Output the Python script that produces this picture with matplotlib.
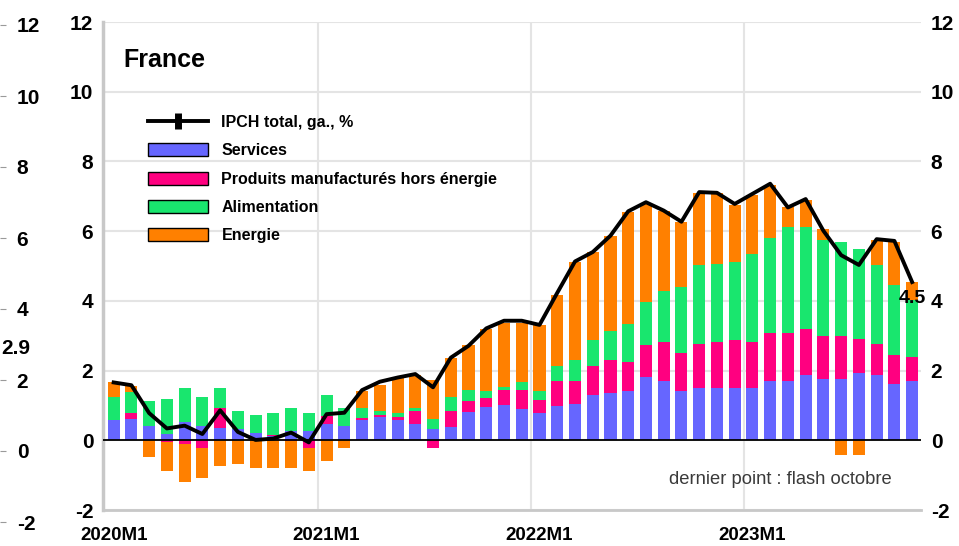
import matplotlib
matplotlib.use("Agg")
import matplotlib.pyplot as plt
from matplotlib.lines import Line2D
from matplotlib.patches import Patch
import numpy as np

plt.rcParams["font.family"] = ["Liberation Sans", "DejaVu Sans"]

# Contributions to HICP inflation, France, y/y %, 2020M1 .. 2023M10
periods = [f"{y}M{m}" for y in range(2020, 2024) for m in range(1, 13)][:46]

services = [0.58, 0.62, 0.40, 0.19, 0.53, 0.40, 0.36, 0.31, 0.20, 0.11, 0.26, 0.26,
            0.47, 0.40, 0.58, 0.67, 0.58, 0.46, 0.31, 0.375, 0.80, 0.95, 1.01, 0.89,
            0.79, 0.99, 1.05, 1.30, 1.36, 1.41, 1.82, 1.71, 1.41, 1.51, 1.51, 1.51,
            1.51, 1.71, 1.71, 1.875, 1.77, 1.77, 1.92, 1.875, 1.615, 1.71]
manufactured = [0.0, 0.15, 0.0, -0.04, -0.12, -0.22, 0.57, 0.0, 0.0, 0.04, -0.03, -0.22,
                0.24, 0.0, 0.06, 0.05, 0.10, 0.38, -0.21, 0.47, 0.32, 0.27, 0.42, 0.54,
                0.37, 0.72, 0.66, 0.84, 0.94, 0.84, 0.90, 1.11, 1.10, 1.26, 1.31, 1.37,
                1.31, 1.37, 1.37, 1.31, 1.21, 1.21, 0.99, 0.89, 0.84, 0.67]
food = [0.67, 0.62, 0.73, 0.99, 0.98, 0.83, 0.58, 0.53, 0.52, 0.63, 0.67, 0.53,
        0.58, 0.52, 0.30, 0.11, 0.10, 0.10, 0.31, 0.41, 0.31, 0.20, 0.11, 0.25,
        0.26, 0.43, 0.59, 0.74, 0.83, 1.10, 1.25, 1.46, 1.88, 2.25, 2.25, 2.24,
        2.51, 2.71, 3.04, 2.94, 2.76, 2.71, 2.57, 2.25, 1.99, 1.65]
energy = [0.41, 0.17, -0.48, -0.84, -1.08, -0.87, -0.74, -0.68, -0.79, -0.79, -0.76, -0.66,
          -0.58, -0.21, 0.48, 0.76, 1.04, 0.93, 1.12, 1.10, 1.30, 1.77, 1.82, 1.69,
          1.89, 2.04, 2.82, 2.51, 2.72, 3.21, 2.83, 2.29, 1.86, 2.08, 2.03, 1.62,
          1.72, 1.54, 0.56, 0.77, 0.32, -0.42, -0.42, 0.72, 1.25, 0.50]
total = [1.66, 1.58, 0.78, 0.34, 0.42, 0.18, 0.86, 0.24, 0.01, 0.05, 0.22, -0.06,
         0.75, 0.79, 1.44, 1.68, 1.80, 1.90, 1.52, 2.37, 2.71, 3.21, 3.43, 3.43,
         3.31, 4.23, 5.13, 5.40, 5.87, 6.57, 6.83, 6.59, 6.27, 7.12, 7.10, 6.78,
         7.07, 7.36, 6.68, 6.92, 6.01, 5.31, 5.03, 5.77, 5.72, 4.54]

series_names = ["Services", "Produits manufacturés hors énergie", "Alimentation", "Energie"]
series_colors = ["#6666FF", "#FF0080", "#19E66E", "#FF8000"]
total_name = "IPCH total, ga., %"
xtick_pos = [0, 12, 24, 36]
year_bounds = [11.5, 23.5, 35.5]
yticks = list(range(-2, 13, 2))
side_label_value = 2.9

W, H = 959, 546
fig = plt.figure(figsize=(W / 100, H / 100), dpi=100)


def px_rect(x0, y0, x1, y1):
    return [x0 / W, 1 - y1 / H, (x1 - x0) / W, (y1 - y0) / H]


ax = fig.add_axes(px_rect(103, 22, 921, 510))
x = np.arange(len(periods))

# stacked bars: positives stack upward, negatives stack downward
pos_base = np.zeros(len(x))
neg_base = np.zeros(len(x))
for vals, color in zip([services, manufactured, food, energy], series_colors):
    v = np.asarray(vals, dtype=float)
    bottom = np.where(v >= 0, pos_base, neg_base)
    ax.bar(x, v, width=0.68, bottom=bottom, color=color, linewidth=0, zorder=2)
    pos_base = pos_base + np.where(v >= 0, v, 0)
    neg_base = neg_base + np.where(v < 0, v, 0)

ax.axhline(0, color="black", lw=1.3, zorder=3)
ax.plot(x, total, color="black", lw=2.8, zorder=4, solid_joinstyle="round")

ax.annotate(f"{total[-1]:.1f}", (x[-1], total[-1]), xytext=(0, -12),
            textcoords="offset points", ha="center", va="center",
            fontsize=14, fontweight="bold", zorder=5)

ax.set_xlim(-0.6, 45.5)
ax.set_ylim(-2, 12)
ax.set_yticks(yticks, labels=[str(t) for t in yticks], fontsize=15, fontweight="bold")
ax.set_xticks(xtick_pos, labels=[periods[i] for i in xtick_pos], fontsize=13.5, fontweight="bold")
ax.set_xticks(year_bounds, minor=True)
ax.tick_params(axis="both", which="both", length=0)
ax.tick_params(axis="y", labelright=True, pad=7)
ax.tick_params(axis="x", pad=12)
ax.grid(True, axis="y", color="#e4e4e4", lw=1.5, zorder=0)
ax.grid(True, axis="x", which="minor", color="#e4e4e4", lw=1.5, zorder=0)
ax.set_axisbelow(True)
for s in ["top", "right"]:
    ax.spines[s].set_visible(False)
ax.spines["left"].set_color("#c8c8c8")
ax.spines["left"].set_linewidth(2.5)
ax.spines["bottom"].set_color("#c8c8c8")
ax.spines["bottom"].set_linewidth(2)

handles = [Line2D([0], [0], color="black", lw=2.8, marker="|", markersize=11, markeredgewidth=5)]
handles += [Patch(facecolor=c, edgecolor="black", linewidth=1) for c in series_colors]
ax.legend(handles, [total_name] + series_names, loc="upper left",
          bbox_to_anchor=(148 / W, 1 - 115 / H), bbox_transform=fig.transFigure,
          frameon=False, prop=dict(weight="bold", size=11.5), handlelength=3.75,
          handleheight=0.875, labelspacing=0.83, handletextpad=0.85,
          borderpad=0, borderaxespad=0)

fig.text(123 / W, 1 - 60 / H, "France", fontsize=18, fontweight="bold", ha="left", va="center")
fig.text(780 / W, 1 - 480 / H, "dernier point : flash octobre", fontsize=13.2,
         color="#3a3a3a", ha="center", va="center")

# right-hand scale of the neighbouring panel, cut at the left edge
axn = fig.add_axes(px_rect(-4, 25, 0, 522))
axn.set_ylim(-2, 12)
axn.set_xticks([])
axn.yaxis.tick_right()
axn.set_yticks(yticks, labels=[str(t) for t in yticks], fontsize=15, fontweight="bold")
axn.tick_params(axis="y", length=4, color="#9a9a9a", pad=8)
for s in axn.spines.values():
    s.set_visible(False)
axn.patch.set_visible(False)
axn.annotate(f"{side_label_value:.1f}", (1, side_label_value), xycoords=("axes fraction", "data"),
             xytext=(11.5, 0), textcoords="offset points", ha="center", va="center",
             fontsize=15, fontweight="bold")

fig.savefig("out.png", dpi=100)
